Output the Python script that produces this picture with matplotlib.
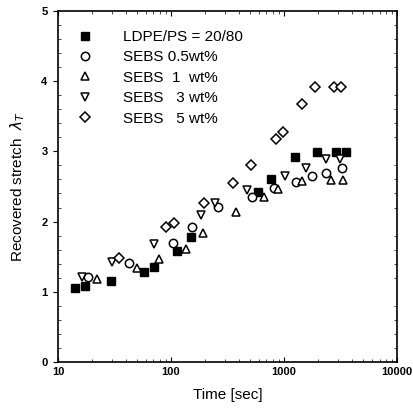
import matplotlib.pyplot as plt
from matplotlib.ticker import LogLocator, NullFormatter, FixedLocator, MultipleLocator

plt.rcParams['font.family'] = ['Liberation Sans', 'DejaVu Sans']

# Data: time [sec] and recovered stretch
t_blend = [14.1, 17.3, 29.4, 57.7, 70.7, 113, 150, 589, 767, 1251, 1959, 2884, 3537]
l_blend = [1.05, 1.08, 1.15, 1.28, 1.35, 1.58, 1.78, 2.42, 2.61, 2.92, 2.99, 2.99, 2.99]

t_05 = [18.4, 42.5, 104, 153, 261, 521, 816, 1277, 1770, 2353, 3259]
l_05 = [1.21, 1.41, 1.70, 1.92, 2.21, 2.35, 2.48, 2.56, 2.65, 2.69, 2.76]

t_1 = [22.1, 50.0, 78.3, 136, 192, 376, 665, 885, 1443, 2606, 3327]
l_1 = [1.18, 1.34, 1.47, 1.61, 1.84, 2.14, 2.35, 2.46, 2.58, 2.59, 2.59]

t_3 = [16.3, 30.1, 70.7, 184, 245, 471, 1021, 1566, 2353, 3131]
l_3 = [1.21, 1.42, 1.68, 2.09, 2.26, 2.45, 2.65, 2.76, 2.89, 2.89]

t_5 = [34.7, 90.3, 106, 196, 354, 511, 850, 980, 1443, 1880, 2768, 3192]
l_5 = [1.48, 1.92, 1.98, 2.26, 2.55, 2.81, 3.18, 3.28, 3.68, 3.92, 3.92, 3.92]

labels = ['LDPE/PS = 20/80', 'SEBS 0.5wt%', 'SEBS  1  wt%', 'SEBS   3 wt%', 'SEBS   5 wt%']

fig = plt.figure(figsize=(4.14, 4.13), dpi=100)
ax = fig.add_axes([0.140, 0.124, 0.819, 0.849])

ms = 5.5
mew = 1.1
ax.plot(t_blend, l_blend, 's', color='black', ms=ms, label=labels[0])
ax.plot(t_05, l_05, 'o', mfc='white', mec='black', mew=mew, ms=ms + 0.5, label=labels[1])
ax.plot(t_1, l_1, '^', mfc='white', mec='black', mew=mew, ms=ms + 0.5, label=labels[2])
ax.plot(t_3, l_3, 'v', mfc='white', mec='black', mew=mew, ms=ms + 0.5, label=labels[3])
ax.plot(t_5, l_5, 'D', mfc='white', mec='black', mew=mew, ms=ms, label=labels[4])

ax.set_xscale('log')
ax.set_xlim(10, 10000)
ax.set_ylim(0, 5)
ax.xaxis.set_major_locator(FixedLocator([10, 100, 1000, 10000]))
ax.set_xticklabels(['10', '100', '1000', '10000'])
ax.xaxis.set_minor_locator(LogLocator(base=10, subs=range(2, 10)))
ax.xaxis.set_minor_formatter(NullFormatter())
ax.yaxis.set_major_locator(MultipleLocator(1))
ax.yaxis.set_minor_locator(MultipleLocator(0.2))

ax.tick_params(axis='x', which='both', direction='in', top=True)
ax.tick_params(axis='y', which='major', direction='out', right=False)
ax.tick_params(axis='y', which='minor', direction='in', right=True)
ax.tick_params(which='major', length=3.5, width=0.8, labelsize=8, pad=4)
ax.tick_params(which='minor', length=2, width=0.5)
for lab in ax.get_xticklabels() + ax.get_yticklabels():
    lab.set_fontweight('bold')
for s in ax.spines.values():
    s.set_linewidth(1.2)

ax.set_xlabel('Time [sec]', fontsize=11, labelpad=8)
ax.set_ylabel('Recovered stretch  $\\lambda_T$', fontsize=11, labelpad=10)

ax.legend(loc='upper left', frameon=False, fontsize=11, handletextpad=1.5,
          labelspacing=0.42, borderaxespad=0.6, bbox_to_anchor=(-0.01, 0.99))

fig.savefig('out.png', dpi=100)
